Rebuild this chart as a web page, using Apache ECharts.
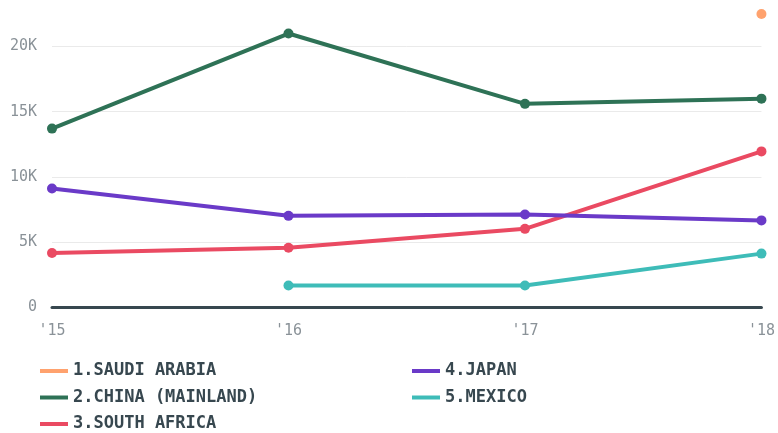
<!DOCTYPE html>
<html><head><meta charset="utf-8">
<script src="https://cdn.jsdelivr.net/npm/echarts@6/dist/echarts.min.js"></script>
<style>html,body{margin:0;padding:0;background:#fff}#c{width:778px;height:433px}</style>
</head><body><div id="c"></div>
<script>
const years = ["'15", "'16", "'17", "'18"];
const saudi = [null, null, null, 22500];
const china = [13700, 21000, 15600, 16000];
const southAfrica = [4150, 4550, 6000, 11950];
const japan = [9100, 7000, 7100, 6650];
const mexico = [null, 1650, 1650, 4100];
const names = ['1.SAUDI ARABIA', '2.CHINA (MAINLAND)', '3.SOUTH AFRICA', '4.JAPAN', '5.MEXICO'];
const colors = ['#ffa26e', '#2e7256', '#ea4a62', '#6a3ac8', '#3ebcb8'];
const values = [saudi, china, southAfrica, japan, mexico];

const font = "'DejaVu Sans Mono', monospace";
const chart = echarts.init(document.getElementById('c'));
const legendText = {color: '#37474f', fontFamily: font, fontWeight: 'bold', fontSize: 17, lineHeight: 20};
chart.setOption({
  animation: false,
  grid: {left: 52, right: 9, top: 14, bottom: 126},
  xAxis: {
    type: 'category', data: years, boundaryGap: false,
    axisLine: {lineStyle: {color: '#37474f', width: 3}},
    axisTick: {show: false},
    axisLabel: {color: '#8a9298', fontFamily: font, fontSize: 15, margin: 17}
  },
  yAxis: {
    type: 'value', min: 0, max: 22500, interval: 5000,
    axisLine: {show: false}, axisTick: {show: false},
    splitLine: {showMaxLine: false, lineStyle: {color: '#eaeaea', width: 1}},
    axisLabel: {color: '#8a9298', fontFamily: font, fontSize: 15, margin: 15, showMaxLabel: false,
      formatter: v => v === 0 ? '0' : (v / 1000) + 'K'}
  },
  legend: [
    {data: names.slice(0, 3), orient: 'vertical', left: 35, top: 356, height: 80, itemGap: 6.5,
     icon: 'rect', itemWidth: 28, itemHeight: 4, textStyle: legendText},
    {data: names.slice(3), orient: 'vertical', left: 407, top: 356, height: 80, itemGap: 6.5,
     icon: 'rect', itemWidth: 28, itemHeight: 4, textStyle: legendText}
  ],
  series: names.map((n, i) => ({
    name: n, type: 'line', data: values[i], color: colors[i], clip: false,
    symbol: 'circle', symbolSize: 10, showAllSymbol: true,
    lineStyle: {width: 4, color: colors[i]},
    itemStyle: {color: colors[i]}
  }))
});
</script></body></html>
